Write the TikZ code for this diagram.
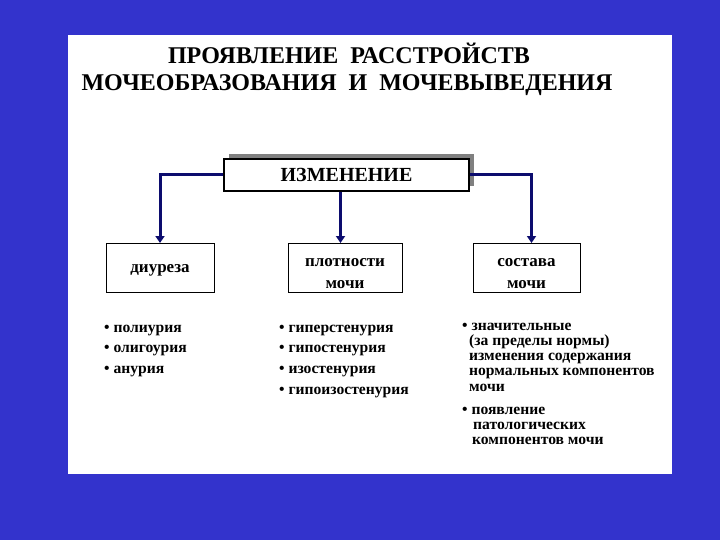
\documentclass[tikz,border=0pt]{standalone}
\usepackage{fontspec}
\setmainfont{Liberation Serif}
\usetikzlibrary{arrows.meta, shadows}
\definecolor{slideblue}{RGB}{51,51,204}
\definecolor{linknavy}{RGB}{12,12,110}

\begin{document}
\begin{tikzpicture}[
    x=1pt, y=-1pt,
    font=\bfseries,
    ttl/.style={anchor=base, inner sep=0pt, font=\fontsize{24}{25}\selectfont\bfseries},
    hbox/.style={rectangle, draw, line width=1.2pt, fill=white, minimum width=245pt, minimum height=32pt, inner sep=0pt, font=\fontsize{20}{22}\selectfont\bfseries, drop shadow={shadow xshift=5pt, shadow yshift=5pt, fill=black!50, opacity=1}},
    cbox/.style={rectangle, draw, line width=1pt, fill=white, minimum height=49pt, inner sep=0pt, align=center, font=\fontsize{17}{22}\selectfont\bfseries, text height=#1},
    cbox/.default=41pt,
    item/.style={anchor=base west, inner sep=0pt, font=\fontsize{15.6}{18}\selectfont\bfseries},
    arr/.style={-{Triangle[length=7pt, width=9pt]}, line width=3pt, linknavy}
]
\fill[slideblue] (0,0) rectangle (720,540);
\fill[white] (68,35) rectangle (672,474);

\node[ttl] (title1) at (349,63.5) {ПРОЯВЛЕНИЕ\ \ РАССТРОЙСТВ};
\node[ttl] (title2) at (347,90.5) {МОЧЕОБРАЗОВАНИЯ\ \ И\ \ МОЧЕВЫВЕДЕНИЯ};

\node[hbox] (izm) at (346.5,175) {ИЗМЕНЕНИЕ};
\node[cbox=12pt, minimum width=108pt] (diur) at (160,268) {диуреза};
\node[cbox, minimum width=114pt] (plot) at (345,268)   {плотности\\мочи};
\node[cbox, minimum width=107pt] (sost) at (526.5,268) {состава\\мочи};

\draw[arr] (izm.west) -| (diur.north);
\draw[arr] ([xshift=-6pt]izm.south) -- ([xshift=-6pt]izm.south |- plot.north);
\draw[arr] (izm.east) -| ([xshift=5pt]sost.north);

\foreach \w [count=\i from 0] in {полиурия, олигоурия, анурия}
    \node[item] (diur\i) at (104, 332+20.7*\i) {\textbullet\ \w};
\foreach \w [count=\i from 0] in {гиперстенурия, гипостенурия, изостенурия, гипоизостенурия}
    \node[item] (plot\i) at (279, 332+20.7*\i) {\textbullet\ \w};

\node[item] (sost0) at (462,330) {\textbullet\ значительные};
\foreach \w [count=\i] in {{(за пределы нормы)}, {изменения содержания}, {нормальных компонентов}, мочи}
    \node[item] (sost\i) at (469, 330+15.3*\i) {\w};
\node[item] (pat0) at (462,414) {\textbullet\ появление};
\node[item] (pat1) at (473,429) {патологических};
\node[item] (pat2) at (472,444) {компонентов мочи};
\end{tikzpicture}
\end{document}
